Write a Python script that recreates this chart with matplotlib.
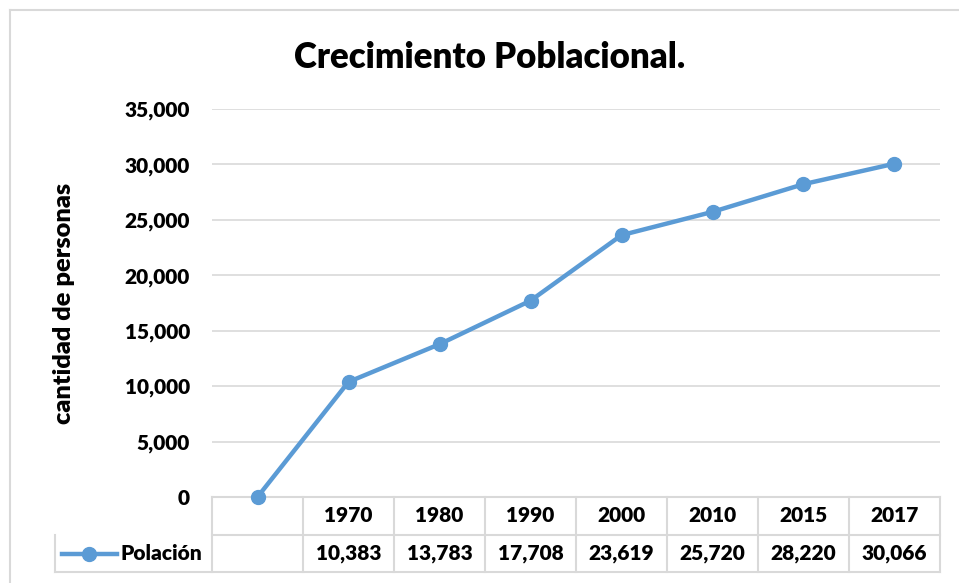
import matplotlib.pyplot as plt
from matplotlib.lines import Line2D
from matplotlib.ticker import FuncFormatter, MultipleLocator

plt.rcParams['font.family'] = ['Lato', 'DejaVu Sans']
plt.rcParams['font.weight'] = 'heavy'

years = ['', '1970', '1980', '1990', '2000', '2010', '2015', '2017']
poblacion = [0, 10383, 13783, 17708, 23619, 25720, 28220, 30066]
series_name = 'Polación'

blue = '#5B9BD5'
grid = '#D9D9D9'
fs = 15

W, H = 959, 583
fig = plt.figure(figsize=(W / 100, H / 100), dpi=100)

# outer chart border (cut off at right/bottom like the screenshot)
fig.add_artist(Line2D([10 / W, 10 / W], [1 - 10 / H, 0], color=grid, lw=1.5))
fig.add_artist(Line2D([10 / W, 1], [1 - 10 / H, 1 - 10 / H], color=grid, lw=1.5))

left, right, top, bottom = 212, 940, 109, 497
ax = fig.add_axes([left / W, 1 - bottom / H, (right - left) / W, (bottom - top) / H])

x = [i + 0.5 for i in range(len(years))]
ax.plot(x, poblacion, color=blue, lw=3.2, marker='o', ms=10, zorder=3, clip_on=False)

ax.set_xlim(0, len(years))
ax.set_ylim(0, 35000)
ax.yaxis.set_major_locator(MultipleLocator(5000))
ax.yaxis.set_major_formatter(FuncFormatter(lambda v, p: f'{int(v):,}'))
ax.grid(axis='y', color=grid, lw=1.2)
ax.set_axisbelow(True)
for s in ['top', 'right', 'left']:
    ax.spines[s].set_visible(False)
ax.spines['bottom'].set_color(grid)
ax.spines['bottom'].set_linewidth(1.5)
ax.set_xticks([])
ax.tick_params(axis='y', length=0, pad=16, labelsize=fs)
for t in ax.get_yticklabels():
    t.set_fontweight('heavy')

ax.set_ylabel('cantidad de personas', fontsize=18.3, fontweight='heavy')
ax.yaxis.set_label_coords((75 - left) / (right - left), 0.5)

fig.text(490 / W, 1 - 57 / H, 'Crecimiento Poblacional.', ha='center', va='center',
         fontsize=25, fontweight='heavy')

# data table below the axis
ah = bottom - top
aw = (right - left) / len(years)
r1 = -(535 - bottom) / ah
r2 = -(572 - bottom) / ah
xl = (55 - left) / aw
tr = ax.get_xaxis_transform()
kw = dict(color=grid, lw=1.5, clip_on=False, transform=tr)
ax.plot([0, len(years)], [r1, r1], **kw)
ax.plot([xl, len(years)], [r2, r2], **kw)
ax.plot([xl, xl], [r1, r2], **kw)
for i in range(len(years) + 1):
    ax.plot([i, i], [0, r2], **kw)

for i, (yr, v) in enumerate(zip(years, poblacion)):
    ax.text(i + 0.5, r1 / 2, yr, ha='center', va='center', fontsize=fs,
            fontweight='heavy', transform=tr)
    if yr:
        ax.text(i + 0.5, (r1 + r2) / 2, f'{v:,}', ha='center', va='center',
                fontsize=fs, fontweight='heavy', transform=tr)

# legend key inside table
ym = (r1 + r2) / 2
ax.plot([(62 - left) / aw, (117 - left) / aw], [ym, ym], color=blue, lw=3.2,
        clip_on=False, transform=tr)
ax.plot([(89 - left) / aw], [ym], color=blue, marker='o', ms=10, clip_on=False, transform=tr)
ax.text((120 - left) / aw, ym, series_name, ha='left', va='center', fontsize=fs,
        fontweight='heavy', transform=tr)

fig.savefig('out.png', dpi=100)
